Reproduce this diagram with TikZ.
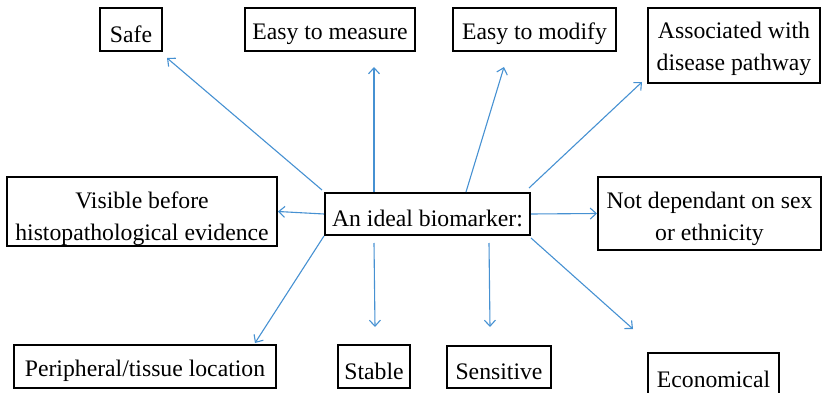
\documentclass[tikz,border=0pt]{standalone}
\usepackage{fontspec}
\setmainfont{Liberation Serif}
\usetikzlibrary{arrows.meta,calc}
\definecolor{linkblue}{RGB}{70,145,210}
% invisible rule that makes a first line taller, so the text sits lower in its frame
\newcommand{\lowerby}[1]{\rule{0pt}{#1}}
\tikzset{
  box/.style={draw=black, line width=2pt, inner sep=0pt, align=center,
    font=\fontsize{23.7}{32}\selectfont},
  link/.style={draw=linkblue, line width=1.1pt,
    -{Straight Barb[length=6pt,width=11pt,line width=1.1pt]}},
}
\begin{document}
\begin{tikzpicture}[x=1pt,y=-1pt]
\useasboundingbox (0,0) rectangle (822,393);
% central node
\node[box, minimum width=205pt, minimum height=42pt] (c) at (427.5,214) {\lowerby{26pt}An ideal biomarker:};
% surrounding properties
\node[box, minimum width=62pt,  minimum height=43pt] (safe)    at (131,29.5)   {\lowerby{26pt}Safe};
\node[box, minimum width=170pt, minimum height=43pt] (measure) at (330,29.5)   {\lowerby{26pt}Easy to measure};
\node[box, minimum width=163pt, minimum height=43pt] (modify)  at (534.5,29.5) {\lowerby{26pt}Easy to modify};
\node[box, minimum width=172pt, minimum height=75pt] (assoc)   at (734,45.5)   {\lowerby{23pt}Associated with\\disease pathway};
\node[box, minimum width=270pt, minimum height=69pt] (visible) at (142,211.5)  {\lowerby{31pt}Visible before\\histopathological evidence};
\node[box, minimum width=223pt, minimum height=73pt] (notdep)  at (709.5,213.5){\lowerby{28pt}Not dependant on sex\\or ethnicity};
\node[box, minimum width=262pt, minimum height=43pt] (periph)  at (145,366.5)  {\lowerby{26pt}Peripheral/tissue location};
\node[box, minimum width=72pt,  minimum height=43pt] (stable)  at (374,366.5)  {\lowerby{26pt}Stable};
\node[box, minimum width=104pt, minimum height=42pt] (sens)    at (499,367)    {\lowerby{26pt}Sensitive};
\node[box, minimum width=131pt, minimum height=44pt] (econ)    at (713.5,375)  {\lowerby{26pt}Economical};
% connectors
\draw[link] ($(c.north west)+(-2,-2)$) -- ($(safe.south east)+(4,6)$);
\draw[link] ($(c.north west)+(50,0)$)  -- ($(measure.south west)+(130,15)$);
\draw[link] ($(c.north west)+(142,0)$) -- ($(modify.south west)+(52,15)$);
\draw[link] ($(c.north east)+(-2,-4)$) -- ($(assoc.south west)+(-5,-2)$);
\draw[link] (c.west) -- (visible.east);
\draw[link] (c.east) -- (notdep.west);
\draw[link] (c.south west) -- ($(periph.north east)+(-22,-1)$);
\draw[link] ($(c.south west)+(50,7)$)  -- ($(stable.north)+(1,-17)$);
\draw[link] ($(c.south west)+(165,7)$) -- ($(sens.north)+(-9,-18)$);
\draw[link] ($(c.south east)+(0,2)$)   -- ($(econ.north west)+(-14,-23)$);
\end{tikzpicture}
\end{document}
